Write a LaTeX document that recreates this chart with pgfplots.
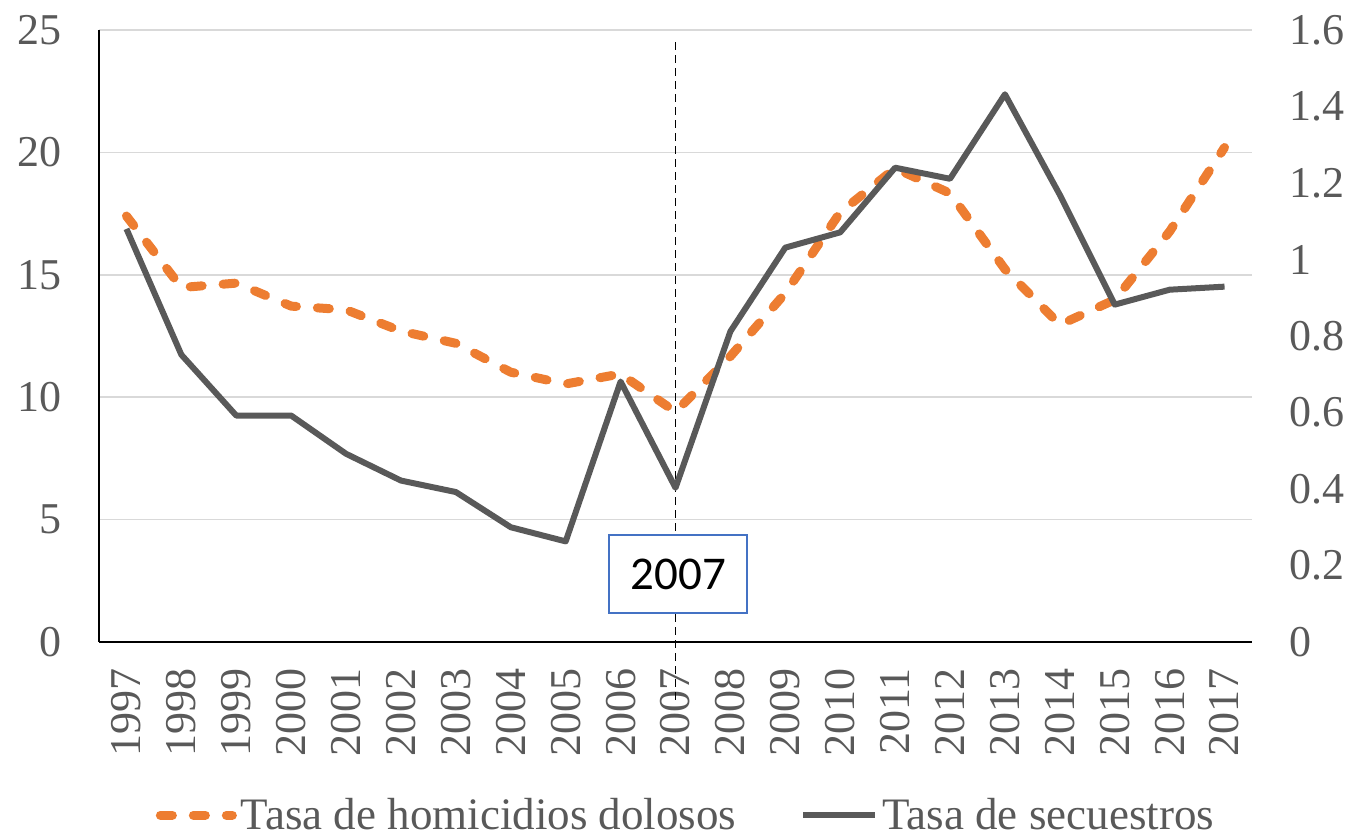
\documentclass[border=0pt]{standalone}
\usepackage{fontspec}
\setmainfont{Liberation Serif}
\newfontfamily\calibri{Carlito}
\usepackage{pgfplots}
\pgfplotsset{compat=1.18}

\definecolor{horange}{HTML}{ED7D31}
\definecolor{sgray}{HTML}{595959}
\definecolor{txtgray}{HTML}{595959}
\definecolor{gridgray}{HTML}{D9D9D9}
\definecolor{boxblue}{HTML}{4472C4}

\pgfplotsset{
  base/.style={
    scale only axis, width=576.5pt, height=306pt,
    xmin=-0.5, xmax=20.5, ymin=0,
    major tick length=0pt,
    /pgf/number format/assume math mode=true,
    tick label style={font=\fontsize{22}{26}\selectfont, text=txtgray},
  },
}

\begin{document}
\begin{tikzpicture}
  % left axis: homicidios
  \begin{axis}[base,
      ymax=25,
      ytick={0,5,10,15,20,25},
      yticklabels={0,5,10,15,20,25},
      yticklabel style={xshift=-15pt},
      xtick={0,...,20},
      xticklabels={1997,1998,1999,2000,2001,2002,2003,2004,2005,2006,2007,2008,2009,2010,2011,2012,2013,2014,2015,2016,2017},
      xticklabel style={rotate=90, anchor=east, xshift=-9.5pt},
      axis x line*=bottom, axis y line*=left,
      axis line style={-, black, line width=1.3pt},
      ymajorgrids, grid style={gridgray, line width=0.75pt},
      clip=false,
      legend columns=2,
      legend style={at={(axis description cs:0.51,-0.283)}, anchor=center,
        draw=none, fill=none, font=\fontsize{22.5}{26}\selectfont, text=txtgray,
        /tikz/every even column/.append style={column sep=30pt},
        inner sep=0pt},
      legend image code/.code={\draw[#1] (0pt,0pt) -- (36pt,0pt);},
    ]
    \draw[black, line width=0.6pt, dash pattern=on 4pt off 2.5pt]
      (axis cs:10,24.5) -- (axis cs:10,-2.5);
    \addplot[horange, line width=4.5pt, line cap=round, line join=round,
      dash pattern=on 6pt off 10.5pt] coordinates {
      (0,17.4) (1,14.48) (2,14.66) (3,13.72) (4,13.57) (5,12.7) (6,12.2)
      (7,11.02) (8,10.54) (9,10.95) (10,9.4) (11,11.67) (12,14.25)
      (13,17.55) (14,19.35) (15,18.33) (16,15.23) (17,12.96) (18,13.98)
      (19,16.77) (20,20.2)};
    \addlegendentry{Tasa de homicidios dolosos}
    \addlegendimage{sgray, line width=3pt}
    \addlegendentry{Tasa de secuestros}
  \end{axis}
  % right axis: secuestros
  \begin{axis}[base,
      ymax=1.6,
      ytick={0,0.2,0.4,0.6,0.8,1,1.2,1.4,1.6},
      yticklabels={0,0.2,0.4,0.6,0.8,1,1.2,1.4,1.6},
      yticklabel style={xshift=15pt},
      axis y line*=right, axis x line=none,
      axis line style={draw=none},
      xtick=\empty,
      clip=false,
    ]
    \addplot[sgray, line width=3pt, line join=round] coordinates {
      (0,1.08) (1,0.751) (2,0.592) (3,0.592) (4,0.492) (5,0.422) (6,0.392)
      (7,0.300) (8,0.263) (9,0.681) (10,0.403) (11,0.812) (12,1.031)
      (13,1.071) (14,1.240) (15,1.211) (16,1.432) (17,1.169) (18,0.882)
      (19,0.921) (20,0.929)};
    \node[draw=boxblue, line width=1pt, fill=white, minimum width=69pt,
      minimum height=39pt, inner sep=0pt, font=\calibri\fontsize{23.5}{28}\selectfont]
      at (axis cs:10.05,0.177) {2007};
  \end{axis}
  \pgfresetboundingbox
  \path[use as bounding box] (-49.5pt,-98.5pt) rectangle (628.5pt,321pt);
\end{tikzpicture}
\end{document}
